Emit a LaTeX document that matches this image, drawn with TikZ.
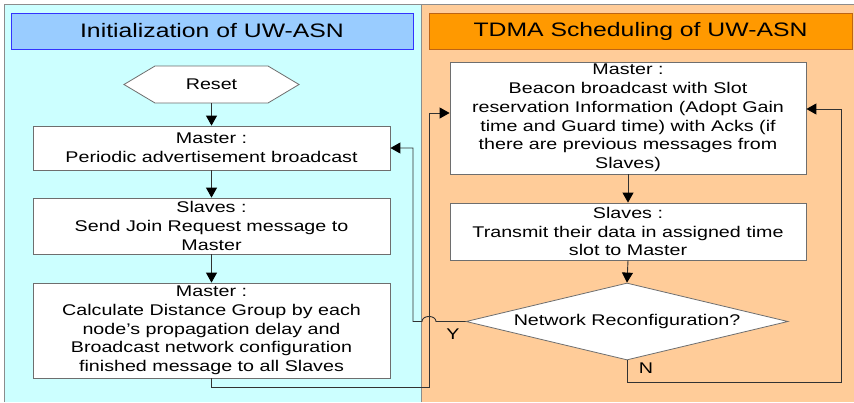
\documentclass[tikz,border=0pt]{standalone}
\usepackage{fontspec}
\setmainfont{Liberation Sans}[FakeStretch=1.27]
\usetikzlibrary{arrows.meta,shapes.geometric}
\definecolor{cyanbg}{RGB}{204,255,255}
\definecolor{peachbg}{RGB}{255,204,153}
\definecolor{hbluefill}{RGB}{153,204,255}
\definecolor{hblueline}{RGB}{51,51,255}
\definecolor{horangefill}{RGB}{255,153,0}
\definecolor{horangeline}{RGB}{190,100,20}
\definecolor{boxgray}{RGB}{110,110,110}
\definecolor{linegray}{RGB}{50,50,50}
\definecolor{framegray}{RGB}{140,140,140}
\newcommand\myboxfont{\fontsize{15.5}{18.7}\selectfont}
\newcommand\myheadfont{\fontsize{19.5}{23}\selectfont}
\begin{document}
\begin{tikzpicture}[x=1pt,y=-1pt,
  stepbox/.style={draw=boxgray, fill=white, line width=0.8pt, align=center, inner sep=0pt, font=\myboxfont},
  conn/.style={draw=linegray, line width=0.9pt},
  arr/.style={conn, -{Triangle[length=10pt,width=11pt,fill=black,color=black]}},
  lab/.style={font=\myboxfont, inner sep=0pt}
]
\useasboundingbox (0,0) rectangle (854,402);
% panels
\fill[white] (0,0) rectangle (854,402);
\fill[cyanbg] (4,4) rectangle (421,402);
\fill[peachbg] (421,4) rectangle (854,402);
\draw[framegray, line width=0.9pt] (4,402) -- (4,4) -- (854,4);
\draw[framegray, line width=0.9pt] (421,4) -- (421,402);
% headers
\node[draw=hblueline, fill=hbluefill, line width=0.8pt, minimum width=402pt, minimum height=36pt, inner sep=0pt, font=\myheadfont] (h1) at (212,31) {Initialization of UW-ASN};
\node[draw=horangeline, fill=horangefill, line width=0.8pt, minimum width=423pt, minimum height=36pt, inner sep=0pt, font=\myheadfont] (h2) at (640.5,31) {TDMA Scheduling of UW-ASN};
% reset hexagon
\draw[boxgray, fill=white, line width=0.8pt] (124,84.5) -- (155,66) -- (268,66) -- (299,84.5) -- (268,103) -- (155,103) -- cycle;
\node[lab, minimum width=175pt, minimum height=37pt] (reset) at (211.5,84.5) {Reset};
% left column
\node[stepbox, minimum width=357pt, minimum height=44pt] (m1) at (211.5,148) {Master :\\Periodic advertisement broadcast};
\node[stepbox, minimum width=357pt, minimum height=56pt] (s1) at (211.5,226) {Slaves :\\Send Join Request message to\\Master};
\node[stepbox, minimum width=357pt, minimum height=95pt] (m2) at (211.5,330.5) {Master :\\Calculate Distance Group by each\\node’s propagation delay and\\Broadcast network configuration\\finished message to all Slaves};
% right column
\node[stepbox, minimum width=356pt, minimum height=112pt] (b) at (628,118) {Master :\\Beacon broadcast with Slot\\reservation Information (Adopt Gain\\time and Guard time) with Acks (if\\there are previous messages from\\Slaves)};
\node[stepbox, minimum width=356pt, minimum height=57pt] (s2) at (628,231.5) {Slaves :\\Transmit their data in assigned time\\slot to Master};
\node[draw=boxgray, fill=white, line width=0.8pt, diamond, aspect=4.18, minimum width=322pt, minimum height=77pt, inner sep=0pt, font=\myboxfont] (dec) at (627,321.5) {Network Reconfiguration?};
% connectors
\draw[arr] (reset.south) -- (m1.north);
\draw[arr] (m1.south) -- (s1.north);
\draw[arr] (s1.south) -- (m2.north);
\coordinate (pa) at (429,387);
\coordinate (pb) at (429,113);
\draw[arr] (m2.south) |- (pa) -- (pb) -- (pb -| b.west);
\draw[arr] (b.south) -- (s2.north);
\draw[arr] (s2.south) -- (dec.north);
\coordinate (hopR) at (436,321.5);
\coordinate (hopL) at (422,321.5);
\coordinate (ya) at (413,321.5);
\draw[arr] (dec.west) -- (hopR) .. controls (436,314.8) and (422,314.8) .. (hopL) -- (ya) -- (ya |- m1.east) -- (m1.east);
\coordinate (na) at (841,382);
\coordinate (nb) at (841,109);
\draw[arr] (dec.south) |- (na) -- (nb) -- (nb -| b.east);
\node[lab] (ylab) at (453,334) {Y};
\node[lab] (nlab) at (646,368) {N};
\end{tikzpicture}
\end{document}
